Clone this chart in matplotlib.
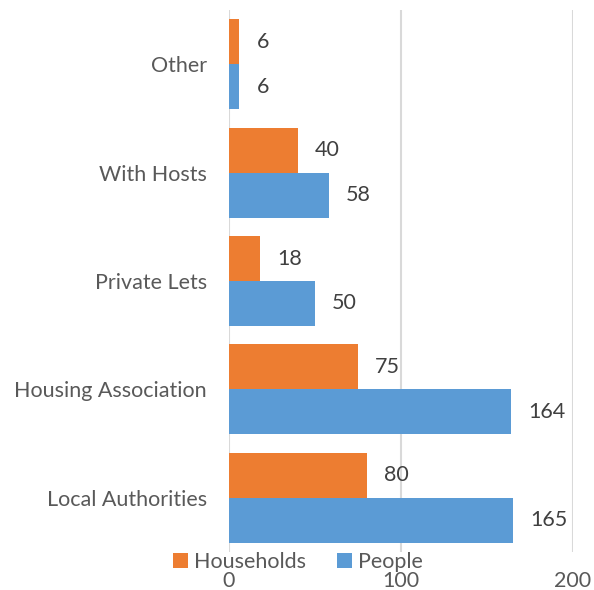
import numpy as np
import matplotlib; matplotlib.use("Agg"); import matplotlib.pyplot as plt

categories = ["Local Authorities", "Housing Association", "Private Lets", "With Hosts", "Other"]
households = [80, 75, 18, 40, 6]
people = [165, 164, 50, 58, 6]
xticks = [0, 100, 200]

plt.rcParams["font.family"] = ["Lato", "DejaVu Sans"]
fig = plt.figure(figsize=(5.94, 5.90), dpi=100)
ax = fig.add_axes([229/594, 1-552/590, 344/594, 542/590])

y = np.arange(len(categories))
h = 0.415
ax.barh(y + h/2, households, height=h, color="#ED7D31", label="Households", zorder=3)
ax.barh(y - h/2, people, height=h, color="#5B9BD5", label="People", zorder=3)

for yy, v in zip(y + h/2, households):
    ax.text(v + 10, yy, str(v), va="center", ha="left", fontsize=15.5, color="#404040")
for yy, v in zip(y - h/2, people):
    ax.text(v + 10, yy, str(v), va="center", ha="left", fontsize=15.5, color="#404040")

ax.set_xlim(0, 200)
ax.set_ylim(-0.5, len(categories) - 0.5)
ax.set_xticks(xticks)
ax.set_yticks(y)
ax.set_yticklabels(categories)
ax.tick_params(axis="both", length=0, labelsize=15.5, labelcolor="#595959")
ax.tick_params(axis="x", pad=14)
ax.tick_params(axis="y", pad=16)
ax.grid(axis="x", color="#d9d9d9", linewidth=1.5, zorder=0)
for s in ax.spines.values():
    s.set_visible(False)

fig.legend(loc="center", bbox_to_anchor=(298/594, 1-562/590), ncol=2, frameon=False,
           fontsize=15.5, labelcolor="#595959", handlelength=0.7, handleheight=0.7,
           handletextpad=0.3, columnspacing=1.4, borderpad=0)

fig.savefig("out.png", dpi=100)
